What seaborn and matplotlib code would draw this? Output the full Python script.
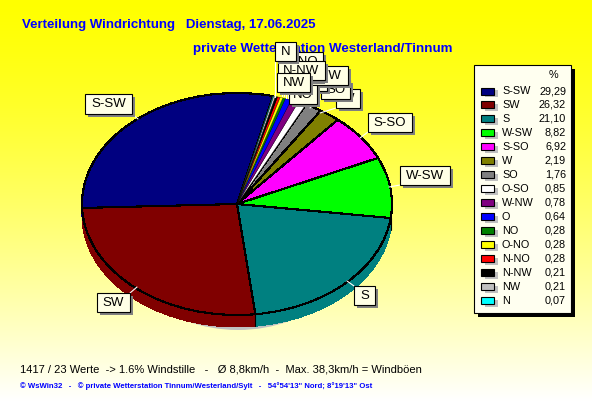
import numpy as np
import matplotlib
matplotlib.use("Agg")
import matplotlib.pyplot as plt
from matplotlib.patches import Rectangle, Ellipse
import seaborn as sns

# ---- data -------------------------------------------------------------
directions = ["S-SW", "SW", "S", "W-SW", "S-SO", "W", "SO", "O-SO", "W-NW", "O",
              "NO", "O-NO", "N-NO", "N-NW", "NW", "N"]
percent = [29.29, 26.32, 21.10, 8.82, 6.92, 2.19, 1.76, 0.85, 0.78, 0.64,
           0.28, 0.28, 0.28, 0.21, 0.21, 0.07]
percent_labels = ["29,29", "26,32", "21,10", "8,82", "6,92", "2,19", "1,76", "0,85", "0,78",
                  "0,64", "0,28", "0,28", "0,28", "0,21", "0,21", "0,07"]
hex_colors = ["#000080", "#800000", "#008080", "#00FF00", "#FF00FF", "#808000", "#808080",
              "#FFFFFF", "#800080", "#0000FF", "#008000", "#FFFF00", "#FF0000", "#000000",
              "#C0C0C0", "#00FFFF"]

title_1 = "Verteilung Windrichtung   Dienstag, 17.06.2025"
title_2 = "private Wetterstation Westerland/Tinnum"
info_line = "1417 / 23 Werte  -> 1.6% Windstille   -   Ø 8,8km/h  -  Max. 38,3km/h = Windböen"
foot_line = "© WsWin32   -   © private Wetterstation Tinnum/Westerland/Sylt   -   54°54'13\" Nord; 8°19'13\" Ost"

# label boxes in pixels: x0, x1, y0, y1, leader end x, leader end y (in legend order)
label_boxes = {
    "S-SW": (85, 132, 94, 114, 138, 119),
    "SW":   (97, 130, 293, 312, 137, 287),
    "S":    (354, 375, 286, 305, 347, 281),
    "W-SW": (400, 450, 166, 185, 389, 187),
    "S-SO": (368, 412, 113, 132, 360, 138),
    "W":    (336, 360, 89, 108, 320, 113),
    "SO":   (321, 350, 80, 99, 310, 108),
    "O-SO": (288, 327, 72, 91, 300, 105),
    "W-NW": (297, 348, 66, 85, 296, 103),
    "O":    (300, 322, 62, 81, 292, 101),
    "NO":   (289, 317, 85, 104, 291, 100),
    "O-NO": (278, 323, 52, 71, 288, 98),
    "N-NO": (280, 323, 62, 80, 286, 98),
    "N-NW": (278, 325, 61, 80, 284, 96),
    "NW":   (277, 310, 73, 92, 282, 96),
    "N":    (275, 296, 42, 61, 275, 97),
}

# ---- style ------------------------------------------------------------
sns.set_theme(style="white")
plt.rcParams["font.family"] = ["Liberation Sans", "DejaVu Sans"]
palette = sns.color_palette(hex_colors)

W, H = 592, 407
fig = plt.figure(figsize=(W / 100, H / 100), dpi=100)

# background gradient
bg = fig.add_axes([0, 0, 1, 1], zorder=0)
bg.axis("off")
t = np.linspace(0, 1, H)
blue = np.clip(t ** 1.35 * 1.02, 0, 1)
grad = np.dstack([np.ones((H, 1)), np.ones((H, 1)), blue[:, None]])
bg.imshow(grad, aspect="auto", extent=(0, W, H, 0))
bg.set_xlim(0, W)
bg.set_ylim(H, 0)
# pie shadow
bg.add_patch(Ellipse((238, 211), 270, 238, color="#C0C0C0", lw=0))

# pie
cx0, rx, cy0, ry, depth = 82, 155, 204, 111, 12
ax = fig.add_axes([cx0 / W, 1 - (cy0 + ry) / H, 2 * rx / W, 2 * ry / H], zorder=1)
start = 76.6
for k in range(depth, 0, -1):
    w, _ = ax.pie(percent, colors=palette, startangle=start, counterclock=True,
                  center=(0, -k / ry), radius=1, normalize=True,
                  wedgeprops=dict(linewidth=0, antialiased=False))
    for p in w:
        p.set_clip_on(False)
# top face: black outlines, thin ones on the narrow wedges so their colours stay visible
rim = ax.pie(percent, colors=palette, startangle=start, center=(0, 0), radius=1,
             wedgeprops=dict(linewidth=0.8, edgecolor="black", antialiased=False))[0]
for p, v in zip(rim, percent):
    p.set_clip_on(False)
    if v < 1.5:
        p.set_linewidth(0.2)
        p.set_antialiased(True)
# redraw the narrow wedges last so that neighbouring outlines do not hide them
order = np.argsort(percent)[::-1]
for z, i in enumerate(order):
    rim[i].set_zorder(2 + z * 0.01)
bounds = np.deg2rad(start + np.cumsum(percent) / np.sum(percent) * 360)
for a in bounds:
    if np.sin(a) < -0.02:
        ax.plot([np.cos(a)] * 2, [np.sin(a), np.sin(a) - depth / ry], color="black",
                lw=0.8, clip_on=False, zorder=5)
ax.set_xlim(-1, 1)
ax.set_ylim(-1, 1)
ax.set_aspect("auto")
ax.axis("off")

# overlay (pixel coordinates)
ov = fig.add_axes([0, 0, 1, 1], zorder=2)
ov.set_xlim(0, W)
ov.set_ylim(H, 0)
ov.axis("off")
ov.patch.set_alpha(0)

ov.text(22, 25, title_1, color="#0000FF", fontsize=9.5, fontweight="bold", va="center", ha="left", zorder=1)
ov.text(193, 49, title_2, color="#0000FF", fontsize=9.6, fontweight="bold", va="center", ha="left", zorder=1)
ov.text(20, 369, info_line, color="black", fontsize=8.0, va="center", ha="left", zorder=1)
ov.text(20, 386, foot_line, color="#0000FF", fontsize=5.55, fontweight="bold", va="center", ha="left", zorder=1)

# pie labels: each later label fully covers the earlier ones
cream = "#FFFFE6"
for n, (name, (x0, x1, y0, y1, lx, ly)) in enumerate(label_boxes.items()):
    xc, yc = (x0 + x1) / 2, (y0 + y1) / 2
    ex = min(max(lx, x0), x1)
    ey = min(max(ly, y0), y1)
    ov.plot([ex, lx], [ey, ly], color="white", lw=0.8, zorder=2)
    z = 3 + n
    ov.add_patch(Rectangle((x0 + 3, y0 + 3), x1 - x0, y1 - y0, color="#808080", lw=0, zorder=z))
    ov.add_patch(Rectangle((x0, y0), x1 - x0, y1 - y0, facecolor=cream, edgecolor="black", lw=0.8, zorder=z + 0.1))
    ov.text(xc, yc + 0.3, name, color="black", fontsize=9.5, ha="center", va="center", zorder=z + 0.2)

# legend panel
ov.add_patch(Rectangle((478, 69), 97, 248, color="black", lw=0, zorder=30))
ov.add_patch(Rectangle((474, 65), 97, 248, facecolor="#FFFFF0", edgecolor="black", lw=0.8, zorder=30.1))
ov.text(553, 75, "%", color="black", fontsize=7.8, ha="center", va="center", zorder=31)
for i, (name, val, col) in enumerate(zip(directions, percent_labels, palette)):
    y = 91 + i * 13.97
    ov.add_patch(Rectangle((485, y - 1), 13, 7, color="#C0C0C0", lw=0, zorder=30.2))
    ov.add_patch(Rectangle((481, y - 3.5), 13, 7, facecolor=col, edgecolor="black", lw=0.8, zorder=30.3))
    ov.text(502, y, name, color="black", fontsize=7.8, ha="left", va="center", zorder=31)
    ov.text(566, y, val, color="black", fontsize=7.8, ha="right", va="center", zorder=31)

fig.savefig("out.png", dpi=100)
